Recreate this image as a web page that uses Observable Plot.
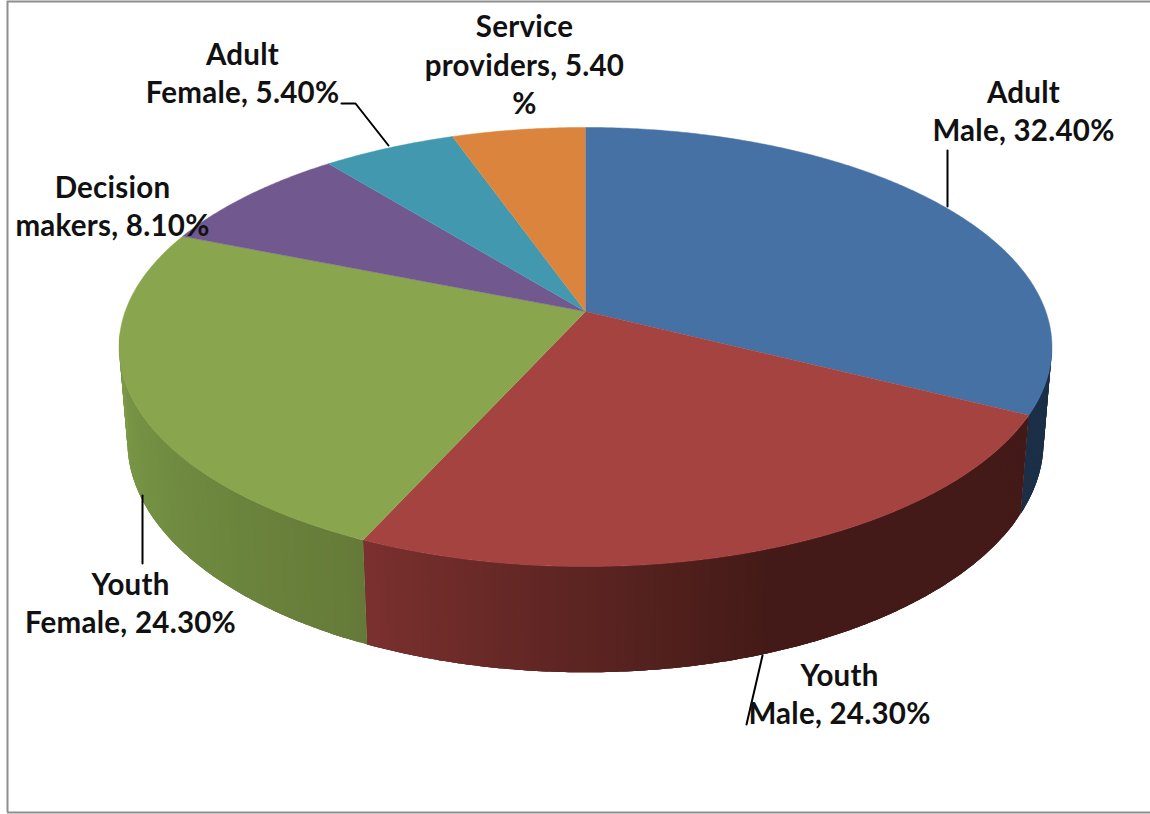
<!DOCTYPE html>
<html>
<head>
<meta charset="utf-8">
<script src="https://cdn.jsdelivr.net/npm/d3@7"></script>
<script src="https://cdn.jsdelivr.net/npm/@observablehq/plot@0.6"></script>
<style>
  html, body { margin: 0; padding: 0; background: #fff; }
  svg { display: block; }
  svg text { letter-spacing: 0.25px; }
</style>
</head>
<body>
<div id="chart"></div>
<script>
// Respondent groups and their shares, clockwise from twelve o'clock.
const categories = ["Adult\nMale", "Youth\nMale", "Youth\nFemale", "Decision\nmakers", "Adult\nFemale", "Service\nproviders"];
const shares = [32.4, 24.3, 24.3, 8.1, 5.4, 5.4];
const percentBreaks = ["", "", "", "", "", "\n"];

// Slice colours: top face, then the shaded outer wall as [angle, colour] stops.
const topColors = ["#4571a5", "#a54341", "#89a54e", "#71588f", "#4198af", "#db843d"];
const wallStops = [
  [[0, "#1b2f47"], [360, "#1b2f47"]],
  [[116, "#431a17"], [160, "#431a17"], [204.2, "#7a302e"]],
  [[204, "#657a38"], [235, "#708c41"], [262, "#7d9a47"], [285, "#7f9d49"]],
  [[0, "#5a4570"], [360, "#5a4570"]],
  [[0, "#30748a"], [360, "#30748a"]],
  [[0, "#ad692f"], [360, "#ad692f"]]
];

// Perspective of the tilted disc (canvas units).
const hub = {x: 585, y: 311};
const radiusX = 460.3, radiusY = 213.8, tilt = 0.1617;
// The lower rim: shifted down, slightly narrower, slightly taller.
const rim = {y: 404, scaleX: 0.982, scaleY: 1.05};

// Label placement (centre of the text block) and leader lines.
const labelAnchors = [[1023, 109], [839, 692], [130, 601], [112, 204], [242, 71], [524, 63]];
const leaders = [
  [[947, 150], [947, 206]],
  [[762, 655], [746, 724]],
  [[142, 495], [142, 563]],
  [],
  [[341, 103], [355, 103], [388, 145]],
  []
];
const frameColor = "#8e8e8e";
const labelSize = 29.5;
const labelLeading = 38.5;

const deg = Math.PI / 180;
const project = (a) => {
  const u = Math.sin(a * deg), v = -Math.cos(a * deg), w = 1 - tilt * v;
  return {x: hub.x + radiusX * u / w, y: hub.y + radiusY * v / w, v};
};
const lower = (p) => ({x: hub.x + rim.scaleX * (p.x - hub.x), y: rim.y + rim.scaleY * (p.y - hub.y)});

const arcs = d3.pie().sort(null).value((d) => d)(shares).map((d) => ({
  start: d.startAngle / deg,
  end: d.endAngle / deg,
  index: d.index
}));

// Top faces: one closed polygon per slice, hub first.
const faces = arcs.flatMap((s) => {
  const n = Math.ceil(s.end - s.start) * 2;
  const ring = d3.range(n + 1).map((i) => project(s.start + (s.end - s.start) * i / n));
  return [hub, ...ring].map((p) => ({x: p.x, y: p.y, id: s.index, color: topColors[s.index]}));
});

// Outer wall: strips along the front of the disc, coloured by angle. Each strip
// reaches past its neighbour's edge and is painted over, so no seams show.
const walls = arcs.flatMap((s) => {
  const shade = d3.scaleLinear()
    .domain(wallStops[s.index].map((d) => d[0]))
    .range(wallStops[s.index].map((d) => d[1]))
    .clamp(true);
  const out = [];
  const step = 1;
  for (let a = s.start; a < s.end; a += step) {
    const b = Math.min(a + step, s.end);
    const p = project(a);
    if (project(b).v < tilt - 0.02 && p.v < tilt - 0.02) continue;
    const id = `${s.index}-${a}`, color = shade((a + b) / 2);
    const ring = d3.range(5).map((i) => project(Math.min(b + i * 0.5, s.end)));
    const edge = [p, project((a + b) / 2), project(b), ...ring];
    [...edge, ...edge.slice().reverse().map(lower)].forEach((c) => out.push({x: c.x, y: c.y, id, color}));
  }
  return out;
});

const labels = categories.map((name, i) => ({
  text: `${name}, ${shares[i].toFixed(2)}${percentBreaks[i]}%`,
  x: labelAnchors[i][0],
  y: labelAnchors[i][1]
}));

const leaderPoints = leaders.flatMap((path, i) => path.map(([x, y]) => ({x, y, id: i})));

const chart = Plot.plot({
  width: 1150,
  height: 814,
  margin: 0,
  x: {domain: [0, 1150], range: [0, 1150], axis: null},
  y: {domain: [0, 814], range: [0, 814], axis: null},
  color: {type: "identity"},
  style: {background: "#fff"},
  marks: [
    // Frame: top, left and bottom edges
    Plot.ruleY([1, 812], {x1: 7, x2: 1150, stroke: frameColor, strokeWidth: 2}),
    Plot.ruleX([7], {y1: 1, y2: 812, stroke: frameColor, strokeWidth: 2}),
    Plot.line(walls, {x: "x", y: "y", z: "id", fill: "color"}),
    Plot.line(faces, {x: "x", y: "y", z: "id", fill: "color", stroke: "color", strokeWidth: 0.5}),
    Plot.line(leaderPoints, {x: "x", y: "y", z: "id", stroke: "#000", strokeWidth: 2}),
    Plot.text(labels, {
      x: "x", y: "y", text: "text",
      fontFamily: "Lato", fontSize: labelSize, fontWeight: 700,
      lineHeight: labelLeading / labelSize, lineAnchor: "middle", textAnchor: "middle", fill: "#111"
    })
  ]
});
document.getElementById("chart").append(chart);
</script>
</body>
</html>
